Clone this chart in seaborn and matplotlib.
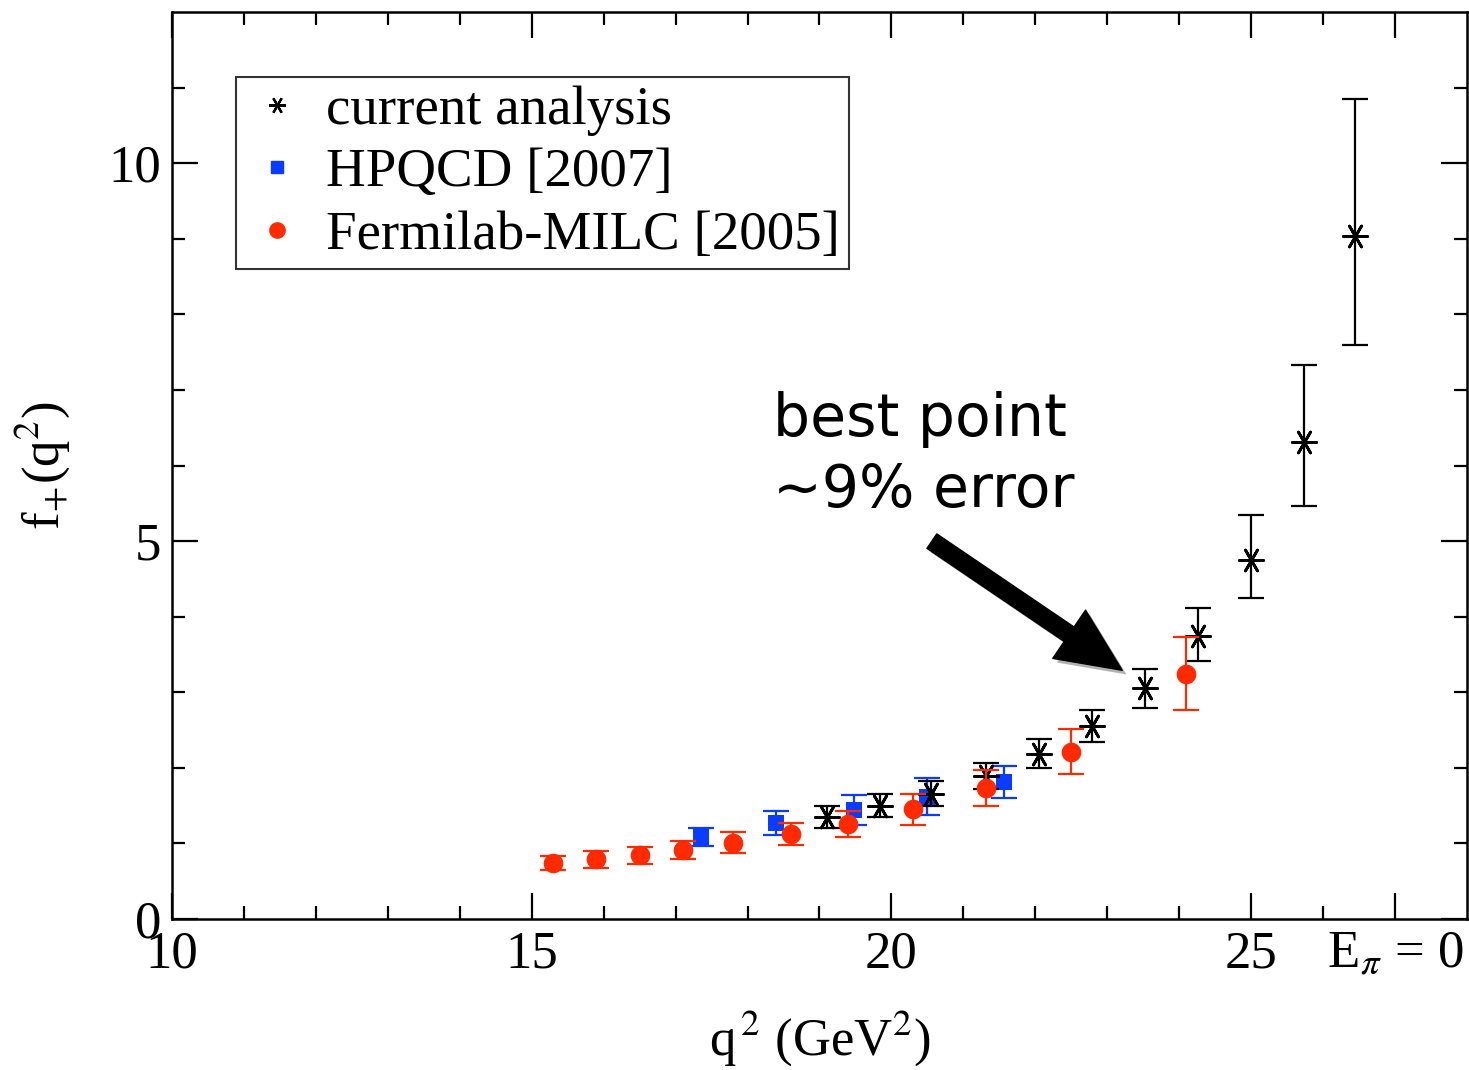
import matplotlib
matplotlib.use("Agg")
import matplotlib.pyplot as plt
import matplotlib.patheffects as pe
from matplotlib.lines import Line2D
from matplotlib.ticker import FixedLocator
import seaborn as sns
import pandas as pd

# ---- data ----
x_cur = [19.11, 19.84, 20.55, 21.31, 22.05, 22.79, 23.53, 24.26, 25.00, 25.73, 26.45]
y_cur = [1.355, 1.50, 1.66, 1.89, 2.185, 2.556, 3.05, 3.74, 4.746, 6.31, 9.04]
e_cur_lo = [0.146, 0.15, 0.16, 0.175, 0.19, 0.214, 0.26, 0.331, 0.503, 0.84, 1.45]
e_cur_hi = [0.146, 0.15, 0.16, 0.175, 0.19, 0.214, 0.26, 0.376, 0.596, 1.02, 1.81]

x_hp = [17.35, 18.39, 19.48, 20.50, 21.56]
y_hp = [1.09, 1.266, 1.444, 1.62, 1.81]
e_hp = [0.12, 0.157, 0.20, 0.24, 0.21]

x_fm = [15.30, 15.90, 16.50, 17.10, 17.80, 18.60, 19.40, 20.30, 21.31, 22.50, 24.10]
y_fm = [0.736, 0.79, 0.843, 0.914, 1.01, 1.125, 1.253, 1.45, 1.73, 2.215, 3.245]
e_fm = [0.093, 0.11, 0.11, 0.12, 0.14, 0.15, 0.17, 0.20, 0.24, 0.30, 0.48]

series_names = ["current analysis", "HPQCD [2007]", "Fermilab-MILC [2005]"]
x_major = [10, 15, 20, 25, 27]
x_major_labels = ["10", "15", "20", "25", r"E$_\pi$ = 0"]
y_major = [0, 5, 10]

sns.set_style("ticks")
plt.rcParams["font.family"] = ["Liberation Serif", "DejaVu Serif"]
plt.rcParams["mathtext.fontset"] = "stix"
for k in ["text.color", "axes.labelcolor", "xtick.color", "ytick.color", "axes.edgecolor"]:
    plt.rcParams[k] = "black"

RED = "#ff2a00"
BLUE = "#0a3cff"
BLACK = "black"

fig = plt.figure(figsize=(14.69, 10.70), dpi=100)
ax = fig.add_axes([172/1469, 1-919/1070, (1467-172)/1469, (919-12)/1070])

star = (6, 2, 90)

df_cur = pd.DataFrame({"x": x_cur, "y": y_cur, "lo": e_cur_lo, "hi": e_cur_hi})
df_hp = pd.DataFrame({"x": x_hp, "y": y_hp, "e": e_hp})
df_fm = pd.DataFrame({"x": x_fm, "y": y_fm, "e": e_fm})

# error bars
ekw = dict(fmt="none", capsize=9.5, capthick=1.6, elinewidth=1.6)
ax.errorbar(df_hp.x, df_hp.y, yerr=df_hp.e, ecolor=BLUE, zorder=2, **ekw)
ax.errorbar(df_cur.x, df_cur.y, yerr=[df_cur.lo, df_cur.hi], ecolor=BLACK, zorder=3, **ekw)
ax.errorbar(df_fm.x, df_fm.y, yerr=df_fm.e, ecolor=RED, zorder=4, **ekw)

# markers via seaborn
sns.scatterplot(data=df_hp, x="x", y="y", ax=ax, marker="s", s=130, color=BLUE,
                edgecolor=BLUE, linewidth=0, zorder=2.5, legend=False)
sns.scatterplot(data=df_cur, x="x", y="y", ax=ax, marker=star, s=300, color=BLACK,
                linewidth=2.0, zorder=3.5, legend=False)
sns.scatterplot(data=df_fm, x="x", y="y", ax=ax, marker="o", s=200, color=RED,
                edgecolor=RED, linewidth=0, zorder=4.5, legend=False)

ax.set_xlim(10, 28)
ax.set_ylim(0, 12)

ax.xaxis.set_major_locator(FixedLocator(x_major))
ax.set_xticklabels(x_major_labels)
ax.xaxis.set_minor_locator(FixedLocator([v for v in range(11, 28) if v not in x_major]))
ax.yaxis.set_major_locator(FixedLocator(y_major))
ax.yaxis.set_minor_locator(FixedLocator([v for v in range(1, 12) if v not in y_major]))

ax.tick_params(which="both", direction="in", top=True, right=True, width=1.6, colors="black")
ax.tick_params(which="major", length=19, labelsize=38, pad=8)
ax.tick_params(which="minor", length=9.5)
for s in ax.spines.values():
    s.set_linewidth(1.8)
    s.set_color("black")

ax.set_xlabel(r"q$^{\,2}$ (GeV$^{2}$)", fontsize=38, labelpad=22)
ax.set_ylabel(r"f$_{+}$(q$^{2}$)", fontsize=38, labelpad=26)

# legend
handles = [
    Line2D([], [], linestyle="none", marker=star, markersize=12, markeredgewidth=1.6, color=BLACK),
    Line2D([], [], linestyle="none", marker="s", markersize=9, color=BLUE),
    Line2D([], [], linestyle="none", marker="o", markersize=11, color=RED),
]
leg = ax.legend(handles, series_names, loc="upper left", bbox_to_anchor=(0.0494, 0.9283),
                fontsize=39.5, frameon=True, fancybox=False, borderpad=0.15,
                handletextpad=0.3, labelspacing=0.22, handlelength=1.2, borderaxespad=0)
leg.get_frame().set_edgecolor("black")
leg.get_frame().set_linewidth(1.5)

# annotation
ax.text(18.35, 6.98, "best point\n\u223c9% error", fontsize=42, family=["DejaVu Sans"],
        ha="left", va="top", linespacing=1.3, color="black")
ax.annotate("", xy=(23.24, 3.27), xytext=(20.53, 5.02),
            arrowprops=dict(arrowstyle="simple,head_length=1.1,head_width=1.0,tail_width=0.3",
                            mutation_scale=42, color="black",
                            path_effects=[pe.withSimplePatchShadow(offset=(3, -3), shadow_rgbFace="gray", alpha=0.6)]),
            zorder=5)

fig.savefig("out.png", dpi=100)
